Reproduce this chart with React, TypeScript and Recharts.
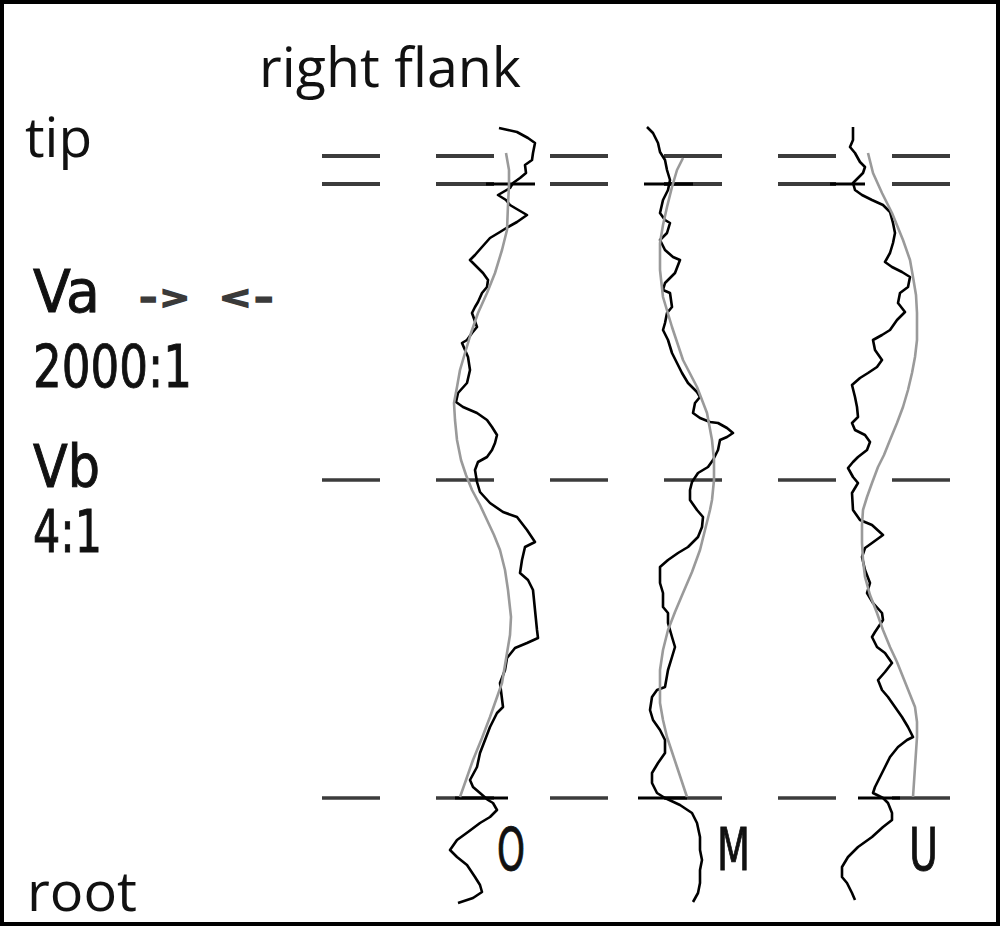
import React from 'react';
import { ScatterChart, Scatter, XAxis, YAxis, ReferenceLine } from 'recharts';

type Pt = [number, number];

// measured traces (x = deviation position, y = position along the flank; tip at top, root at bottom)
const traceO: Pt[] = [
  [499,128],[508,130],[517,132],[528,138],[535,143],[533,153],[532,160],[525,165],[526,173],[520,178],[513,183],[510,188],[498,195],[506,200],[510,205],[515,208],[527,215],[517,222],[508,227],[500,232],[490,238],[482,247],[475,255],[470,260],[477,267],[483,273],[488,280],[487,287],[482,293],[478,302],[475,307],[472,313],[477,327],[472,333],[467,340],[462,343],[465,350],[468,357],[470,370],[467,383],[458,393],[456,402],[463,407],[477,413],[487,420],[492,427],[497,435],[495,443],[492,450],[487,457],[478,462],[475,470],[477,482],[480,492],[490,503],[503,512],[517,517],[527,530],[535,542],[525,547],[522,560],[520,573],[528,580],[533,590],[535,610],[537,630],[538,638],[527,643],[515,648],[507,658],[505,670],[500,683],[503,707],[497,713],[490,727],[485,740],[480,753],[477,767],[470,780],[473,787],[480,793],[488,800],[493,803],[497,810],[490,817],[480,823],[468,832],[457,840],[450,850],[457,857],[467,865],[475,877],[480,885],[482,892],[473,898],[458,903],
];
const fitO: Pt[] = [
  [506,153],[509,170],[509,185],[508,205],[507,230],[502,250],[495,273],[487,293],[478,313],[471,333],[465,353],[460,370],[457,387],[454,403],[455,420],[457,440],[461,460],[466,475],[472,490],[480,505],[487,520],[494,535],[500,550],[505,570],[508,590],[511,617],[510,635],[508,647],[505,665],[502,683],[496,700],[490,717],[482,738],[473,760],[466,780],[460,797],
];
const traceM: Pt[] = [
  [647,127],[653,133],[658,143],[660,152],[665,160],[667,170],[670,180],[668,190],[663,200],[660,213],[665,220],[670,223],[667,233],[660,240],[665,250],[673,257],[680,260],[675,273],[665,283],[663,290],[670,293],[672,307],[667,313],[665,323],[663,330],[668,340],[672,353],[677,363],[682,373],[688,383],[697,392],[700,397],[695,403],[693,413],[700,418],[710,422],[718,423],[727,428],[733,433],[727,437],[720,440],[718,450],[713,460],[708,467],[698,473],[692,482],[690,490],[690,500],[697,510],[703,517],[702,527],[698,537],[688,547],[678,553],[668,560],[660,567],[660,583],[663,593],[663,607],[668,613],[668,623],[672,637],[675,647],[672,657],[668,670],[665,687],[657,690],[652,697],[650,710],[653,720],[660,730],[665,740],[665,753],[658,763],[652,773],[652,783],[657,793],[665,798],[680,805],[692,813],[697,823],[700,837],[700,850],[702,860],[700,870],[700,883],[698,893],[693,902],
];
const fitM: Pt[] = [
  [683,158],[677,170],[672,187],[667,207],[663,225],[660,243],[660,270],[663,297],[672,327],[683,360],[697,387],[707,413],[712,440],[714,460],[714,480],[712,500],[710,510],[705,530],[700,550],[692,572],[683,593],[675,612],[668,630],[663,650],[660,670],[660,703],[663,720],[667,737],[672,752],[677,767],[682,782],[687,797],
];
const traceU: Pt[] = [
  [853,127],[853,140],[850,147],[855,153],[860,162],[865,167],[863,173],[858,178],[853,183],[855,190],[862,195],[872,200],[883,205],[890,212],[893,223],[895,233],[893,243],[890,253],[885,262],[892,267],[902,272],[910,277],[908,287],[900,293],[898,303],[905,312],[897,320],[890,330],[882,335],[873,340],[875,350],[882,360],[877,367],[868,373],[860,378],[852,385],[855,397],[857,407],[858,417],[852,423],[855,430],[865,435],[870,442],[867,450],[858,457],[853,462],[848,468],[853,477],[858,483],[852,493],[853,510],[860,520],[872,525],[883,535],[872,543],[865,548],[862,557],[865,570],[870,583],[867,593],[873,603],[882,613],[883,620],[875,632],[872,637],[877,647],[885,653],[892,663],[885,672],[878,680],[882,690],[888,697],[895,707],[902,717],[908,727],[913,737],[907,740],[898,747],[890,757],[885,767],[880,777],[875,787],[873,793],[883,798],[888,803],[892,813],[892,820],[883,827],[872,837],[858,847],[848,857],[842,867],[842,877],[847,883],[852,893],[855,900],
];
const fitU: Pt[] = [
  [868,153],[873,173],[882,193],[892,213],[903,240],[910,260],[913,277],[916,295],[917,313],[917,340],[915,357],[912,373],[908,390],[903,407],[897,423],[890,440],[884,455],[878,467],[872,483],[867,497],[863,510],[862,525],[862,543],[863,560],[865,577],[870,595],[877,613],[883,630],[890,647],[897,662],[903,677],[909,692],[915,707],[917,722],[917,737],[916,752],[915,767],[914,782],[913,797],
];

// evaluation range markers (start x, end x, level)
const markerStart = [486, 644, 830, 455, 638, 858];
const markerEnd = [535, 693, 865, 508, 687, 900];
const markerLevel = [184, 184, 184, 798, 798, 798];

// horizontal guide levels: tip (two lines), Vb, root
const guideLevels = [156, 184, 480, 798];
const guideWidths = [4, 4, 3.5, 3.5];
const guideFrom = 322;
const guideTo = 952;

const profileNames = ['O', 'M', 'U'];
const profileNameX = [497, 717, 909];
const profileNameW = [28, 33, 29];

const toPts = (arr: Pt[]) => arr.map(([x, y]) => ({ x, y }));
const NoDot = () => <g />;

const SANS = "'Open Sans', 'Noto Sans', sans-serif";
const DIN = "'Liberation Sans Narrow', 'DejaVu Sans Condensed', sans-serif";
const MONO = "'DejaVu Sans Mono', monospace";

export default function App() {
  const traces = [traceO, traceM, traceU];
  const fits = [fitO, fitM, fitU];
  const dinStroke = { stroke: '#111', strokeWidth: 0.9 };
  return (
    <div style={{ position: 'absolute', left: 0, top: 0, width: 1000, height: 926, background: '#fff' }}>
      <ScatterChart width={1000} height={926} margin={{ top: 0, right: 0, bottom: 0, left: 0 }}>
        <XAxis type="number" dataKey="x" domain={[0, 1000]} hide />
        <YAxis type="number" dataKey="y" domain={[0, 926]} reversed hide />
        {guideLevels.map((lv, i) => (
          <ReferenceLine
            key={'g' + i}
            segment={[{ x: guideFrom, y: lv }, { x: guideTo, y: lv }]}
            stroke="#3c3c3c"
            strokeWidth={guideWidths[i]}
            strokeDasharray="58 56"
          />
        ))}
        {markerStart.map((s, i) => (
          <ReferenceLine
            key={'m' + i}
            segment={[{ x: s, y: markerLevel[i] }, { x: markerEnd[i], y: markerLevel[i] }]}
            stroke="#000"
            strokeWidth={3}
          />
        ))}
        {traces.map((t, i) => (
          <Scatter
            key={'t' + i}
            data={toPts(t)}
            fill="#000"
            line={{ stroke: '#000', strokeWidth: 2.6, strokeLinejoin: 'round' }}
            shape={NoDot}
            legendType="none"
            isAnimationActive={false}
          />
        ))}
        {fits.map((f, i) => (
          <Scatter
            key={'f' + i}
            data={toPts(f)}
            fill="#999"
            line={{ stroke: '#9a9a9a', strokeWidth: 2.6, strokeLinejoin: 'round' }}
            shape={NoDot}
            legendType="none"
            isAnimationActive={false}
          />
        ))}
      </ScatterChart>
      <svg width={1000} height={926} style={{ position: 'absolute', left: 0, top: 0, pointerEvents: 'none' }}>
        <rect x={2} y={2} width={996} height={922} fill="none" stroke="#000" strokeWidth={4} />
        <text x={259} y={87} fontFamily={SANS} fontSize={55} fill="#111" textLength={262} lengthAdjust="spacingAndGlyphs">right flank</text>
        <text x={25} y={157} fontFamily={SANS} fontSize={55} fill="#111">tip</text>
        <text x={27} y={911} fontFamily={SANS} fontSize={54} fill="#111" textLength={110} lengthAdjust="spacingAndGlyphs">root</text>
        <text x={33} y={312} fontFamily={DIN} fontSize={58} fill="#111" {...dinStroke} textLength={67} lengthAdjust="spacingAndGlyphs">Va</text>
        <text x={135} y={309} fontFamily={MONO} fontWeight="bold" fontSize={34} fill="#3a3a3a" stroke="#3a3a3a" strokeWidth={1.5} textLength={53} lengthAdjust="spacingAndGlyphs">-&gt;</text>
        <text x={221} y={309} fontFamily={MONO} fontWeight="bold" fontSize={34} fill="#3a3a3a" stroke="#3a3a3a" strokeWidth={1.5} textLength={57} lengthAdjust="spacingAndGlyphs">&lt;-</text>
        <text x={33} y={387} fontFamily={DIN} fontSize={58} fill="#111" {...dinStroke} textLength={159} lengthAdjust="spacingAndGlyphs">2000:1</text>
        <text x={33} y={487} fontFamily={DIN} fontSize={58} fill="#111" {...dinStroke} textLength={67} lengthAdjust="spacingAndGlyphs">Vb</text>
        <text x={33} y={552} fontFamily={DIN} fontSize={58} fill="#111" {...dinStroke} textLength={69} lengthAdjust="spacingAndGlyphs">4:1</text>
        {profileNames.map((n, i) => (
          <text key={n} x={profileNameX[i]} y={870} fontFamily={DIN} fontSize={58} fill="#111" {...dinStroke} textLength={profileNameW[i]} lengthAdjust="spacingAndGlyphs">{n}</text>
        ))}
      </svg>
    </div>
  );
}
